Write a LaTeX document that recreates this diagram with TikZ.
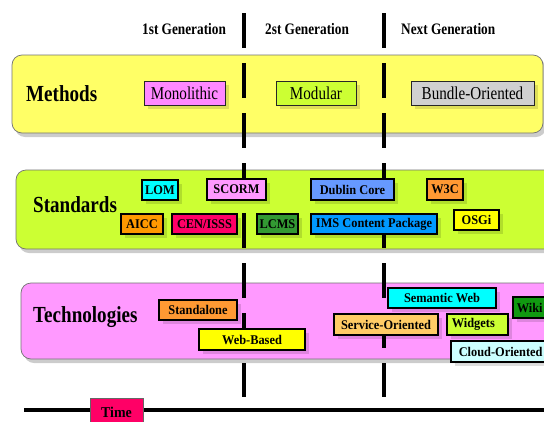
\documentclass[tikz,border=0pt]{standalone}
\usepackage{fontspec}
\setmainfont{Liberation Serif}[FakeStretch=0.83]
\newfontfamily\bxf{Liberation Serif}[FakeStretch=0.93]
\usetikzlibrary{shadows}
\definecolor{bandY}{HTML}{FFFF66}
\definecolor{bandG}{HTML}{CCFF33}
\definecolor{bandP}{HTML}{FF99FF}
\definecolor{cMono}{HTML}{FF88FF}
\definecolor{cMod}{HTML}{CCFF33}
\definecolor{cBund}{HTML}{D0D0D0}
\definecolor{cCyan}{HTML}{00FFFF}
\definecolor{cPink}{HTML}{FF99FF}
\definecolor{cOrange}{HTML}{FF9933}
\definecolor{cAicc}{HTML}{FF9900}
\definecolor{cRed}{HTML}{FF0066}
\definecolor{cGreen}{HTML}{339933}
\definecolor{cDublin}{HTML}{6699FF}
\definecolor{cIms}{HTML}{0099FF}
\definecolor{cYellow}{HTML}{FFFF00}
\definecolor{cWiki}{HTML}{119911}
\definecolor{cServ}{HTML}{FFCC66}
\definecolor{cCloud}{HTML}{CCFFFF}
\tikzset{
  sz/.style 2 args={minimum width=#1pt, minimum height=#2pt},
  band/.style={draw=black!55, line width=0.7pt, rounded corners=10pt, inner sep=0pt,
    drop shadow={shadow xshift=3pt, shadow yshift=-4pt, fill=black, opacity=0.2}},
  mbox/.style={draw=black!85, line width=1pt, inner sep=0pt,
    font=\fontsize{18.2}{20}\selectfont,
    drop shadow={shadow xshift=4pt, shadow yshift=-4pt, fill=black, opacity=0.13}},
  sbox/.style={draw=black, line width=1.5pt, inner sep=0pt,
    font=\bxf\bfseries\fontsize{13.3}{14}\selectfont,
    drop shadow={shadow xshift=4pt, shadow yshift=-4pt, fill=black, opacity=0.13}},
  lbox/.style 2 args={sbox, anchor=west, minimum height=#2pt, inner xsep=#1pt, align=left},
  gen/.style={anchor=base west, inner sep=0pt, font=\bfseries\fontsize{16}{18}\selectfont},
  title/.style={anchor=base west, inner sep=0pt, font=\bfseries\fontsize{23}{25}\selectfont},
  divider/.style={line width=3.2pt, dash pattern=on 35pt off 15pt},
}
\begin{document}
\begin{tikzpicture}[x=1pt, y=-1pt]
\clip (0,0) rectangle (544,421);
\fill[white] (0,0) rectangle (544,421);
% bands
\node[band, fill=bandY, sz={531}{78}] (methods) at (277.5,94) {};
\node[band, fill=bandG, sz={554}{79}] (standards) at (293,209.5) {};
\node[band, fill=bandP, sz={549}{76}] (technologies) at (295.5,321) {};
% headers
\node[gen] (g1) at (142,34) {1st Generation};
\node[gen] (g2) at (265,34) {2st Generation};
\node[gen] (g3) at (401,34) {Next Generation};
% titles
\node[title] (tm) at (26,101) {Methods};
\node[title] (ts) at (33,212) {Standards};
\node[title] (tt) at (33,322) {Technologies};
% dividers
\coordinate (d1t) at (244,13);
\coordinate (d1b) at (244,397);
\coordinate (d2t) at (384,13);
\coordinate (d2b) at (384,397);
\draw[divider] (d1t) -- (d1b);
\draw[divider] (d2t) -- (d2b);
% methods boxes
\node[mbox, fill=cMono, sz={81}{24}] (mono) at (184.5,93) {Monolithic};
\node[mbox, fill=cMod, sz={80}{24}] (modu) at (316,93) {Modular};
\node[mbox, fill=cBund, sz={123}{24}] (bund) at (472.5,93) {Bundle-Oriented};
% standards boxes
\node[sbox, fill=cCyan, sz={36}{20}] (lom) at (160,190) {LOM};
\node[sbox, fill=cPink, sz={59}{21}] (scorm) at (236.5,189.5) {SCORM};
\node[sbox, fill=cDublin, sz={83}{21}] (dublin) at (352.5,189.5) {Dublin Core};
\node[sbox, fill=cOrange, sz={36}{21}] (w3c) at (445,189.5) {W3C};
\node[sbox, fill=cAicc, sz={42}{20}] (aicc) at (142,224) {AICC};
\node[sbox, fill=cRed, sz={65}{20}] (cen) at (204.5,224) {CEN/ISSS};
\node[sbox, fill=cGreen, sz={41}{20}] (lcms) at (277.5,224) {LCMS};
\node[sbox, fill=cIms, sz={126}{20}] (ims) at (374,224) {IMS Content Package};
\node[sbox, fill=cYellow, sz={45}{20}] (osgi) at (476.5,220) {OSGi};
% technologies boxes
\node[sbox, fill=cOrange, sz={78}{20}] (stand) at (198,310) {Standalone};
\node[sbox, fill=cYellow, sz={106}{21}] (web) at (252,339.5) {Web-Based};
\node[sbox, fill=cCyan, sz={108}{20}] (sem) at (442,298) {Semantic Web};
\node[lbox={4}{21}, fill=cWiki, text width=40pt] (wiki) at (512,307.5) {Wiki};
\node[sbox, fill=cServ, sz={104}{21}] (serv) at (386,324.5) {Service-Oriented};
\node[lbox={5}{21}, fill=cMod, text width=51pt] (widg) at (446,324.5) {Widgets};
\node[lbox={8}{21}, fill=cCloud, text width=98pt] (cloud) at (450,351.5) {Cloud-Oriented};
% time line
\coordinate (tl) at (24,410);
\coordinate (tr) at (560,410);
\draw[line width=3.5pt] (tl) -- (tr);
\node[draw=black!60, line width=0.8pt, fill=cRed, sz={53}{28}, inner sep=0pt,
  font=\bxf\bfseries\fontsize{15}{16}\selectfont] (time) at (116.5,412) {Time};
\end{tikzpicture}
\end{document}
